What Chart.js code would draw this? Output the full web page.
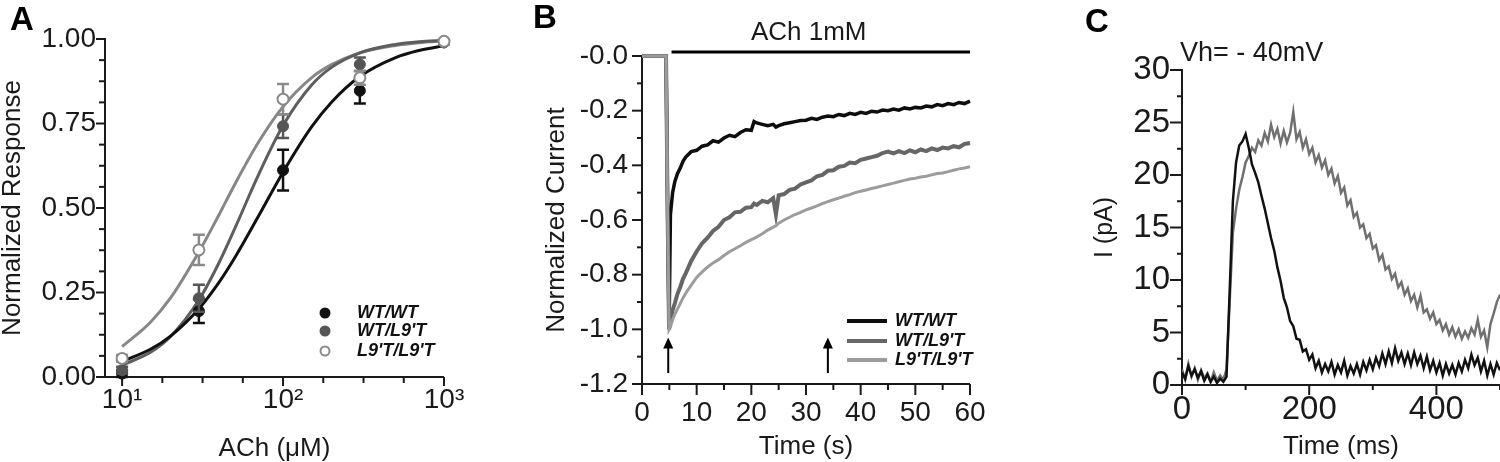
<!DOCTYPE html>
<html lang="en">
<head>
    <meta charset="UTF-8">
    <title>ACh responses</title>
    <style>
        body {
            margin: 0;
            background: #fff;
            width: 1500px;
            height: 462px;
            overflow: hidden;
            position: relative;
        }
        canvas { position: absolute; top: 0; }
        #chartA { left: 0; }
        #chartB { left: 500px; }
        #chartC { left: 1000px; }
    </style>
</head>
<body>
    <canvas id="chartA" width="500" height="462"></canvas>
    <canvas id="chartB" width="500" height="462"></canvas>
    <canvas id="chartC" width="500" height="462"></canvas>

    <script src="https://cdn.jsdelivr.net/npm/chart.js"></script>
    <script>
        const genotypes = ['WT/WT', "WT/L9'T", "L9'T/L9'T"];

        // Panel A - dose response (mean +/- error) and fitted curves
        const aConc = [10, 30, 100, 300, 1000];
        const aWT = [0.01, 0.195, 0.612, 0.847, 0.99];
        const aWTErr = [0.01, 0.035, 0.06, 0.038, 0.005];
        const aWTL9 = [0.02, 0.233, 0.742, 0.925, 0.99];
        const aWTL9Err = [0.01, 0.04, 0.035, 0.02, 0.005];
        const aL9 = [0.055, 0.376, 0.822, 0.885, 0.993];
        const aL9Err = [0.01, 0.045, 0.045, 0.02, 0.005];

        const aFitConc = [10, 15, 20, 30, 40, 50, 70, 100, 150, 200, 300, 500, 700, 1000];
        const aFitWT = [0.046, 0.082, 0.121, 0.202, 0.28, 0.352, 0.474, 0.606, 0.739, 0.813, 0.889, 0.945, 0.966, 0.98];
        const aFitWTL9 = [0.035, 0.073, 0.12, 0.228, 0.338, 0.438, 0.596, 0.744, 0.863, 0.916, 0.959, 0.984, 0.992, 0.996];
        const aFitL9 = [0.09, 0.162, 0.234, 0.37, 0.48, 0.569, 0.693, 0.80, 0.885, 0.924, 0.959, 0.981, 0.989, 0.994];

        const aXTicks = [10, 100, 1000];
        const aXLabels = ['10¹', '10²', '10³'];
        const aXMinor = [17.78, 31.62, 56.23, 177.8, 316.2, 562.3];
        const aYTicks = [0, 0.25, 0.5, 0.75, 1];
        const aYLabels = ['0.00', '0.25', '0.50', '0.75', '1.00'];
        const aYMinor = [0.0625, 0.125, 0.1875, 0.3125, 0.375, 0.4375, 0.5625, 0.625, 0.6875, 0.8125, 0.875, 0.9375];

        // Panel B - normalized current traces, ACh 1mM
        const bTime = [0, 4.4, 4.7, 4.95, 5.2, 5.6, 6, 6.5, 7, 7.5,
            8, 9, 10, 11, 12, 13, 14, 15, 16, 17,
            18, 19, 20, 20.5, 21, 22, 23, 24, 24.5, 25,
            26, 27, 28, 29, 30, 31, 32, 33, 34, 35,
            36, 37, 38, 39, 40, 41, 42, 43, 44, 45,
            46, 47, 48, 49, 50, 51, 52, 53, 54, 55,
            56, 57, 58, 59, 60];
        const bWT = [0, 0, -0.6, -1.0, -0.58, -0.5, -0.46, -0.43, -0.41, -0.385,
            -0.37, -0.35, -0.345, -0.33, -0.325, -0.31, -0.315, -0.3, -0.29, -0.295,
            -0.28, -0.27, -0.272, -0.24, -0.245, -0.25, -0.255, -0.25, -0.26, -0.255,
            -0.248, -0.244, -0.24, -0.236, -0.235, -0.228, -0.232, -0.224, -0.22, -0.222,
            -0.214, -0.218, -0.21, -0.214, -0.206, -0.21, -0.202, -0.205, -0.198, -0.2,
            -0.194, -0.198, -0.19, -0.194, -0.188, -0.19, -0.183, -0.186, -0.178, -0.182,
            -0.174, -0.178, -0.17, -0.174, -0.165];
        const bWTL9 = [0, 0, -0.6, -1.0, -0.97, -0.93, -0.905, -0.87, -0.845, -0.815,
            -0.795, -0.75, -0.715, -0.685, -0.665, -0.64, -0.625, -0.6, -0.59, -0.572,
            -0.57, -0.555, -0.553, -0.54, -0.545, -0.53, -0.535, -0.52, -0.58, -0.51,
            -0.505, -0.49, -0.485, -0.47, -0.462, -0.455, -0.44, -0.435, -0.42, -0.418,
            -0.405, -0.402, -0.39, -0.392, -0.38, -0.375, -0.37, -0.365, -0.355, -0.35,
            -0.356, -0.348, -0.355, -0.345, -0.352, -0.342, -0.348, -0.338, -0.344, -0.335,
            -0.338, -0.33, -0.334, -0.322, -0.318];
        const bL9 = [0, 0, -0.6, -1.0, -0.99, -0.965, -0.945, -0.925, -0.905, -0.885,
            -0.868, -0.838, -0.81, -0.79, -0.772, -0.757, -0.745, -0.73, -0.716, -0.705,
            -0.694, -0.682, -0.672, -0.667, -0.662, -0.65, -0.637, -0.626, -0.621, -0.612,
            -0.6, -0.59, -0.58, -0.572, -0.563, -0.556, -0.548, -0.54, -0.533, -0.526,
            -0.52, -0.513, -0.507, -0.5, -0.495, -0.49, -0.485, -0.48, -0.475, -0.47,
            -0.465, -0.46, -0.455, -0.45, -0.447, -0.443, -0.44, -0.435, -0.43, -0.428,
            -0.423, -0.418, -0.413, -0.41, -0.405];
        const bAChBar = [5.4, 60];
        const bArrows = [4.8, 34];

        const bXTicks = [0, 10, 20, 30, 40, 50, 60];
        const bXLabels = ['0', '10', '20', '30', '40', '50', '60'];
        const bXMinor = [5, 15, 25, 35, 45, 55];
        const bYTicks = [-1.2, -1.0, -0.8, -0.6, -0.4, -0.2, 0];
        const bYLabels = ['-1.2', '-1.0', '-0.8', '-0.6', '-0.4', '-0.2', '-0.0'];
        const bYMinor = [-1.1, -0.9, -0.7, -0.5, -0.3, -0.1];

        // Panel C - currents at Vh = -40 mV
        const cTime = [0, 5, 10, 15, 20, 25, 30, 35, 40, 45,
            50, 55, 60, 65, 70, 75, 80, 85, 90, 95,
            100, 105, 110, 115, 120, 125, 130, 135, 140, 145,
            150, 155, 160, 165, 170, 175, 180, 185, 190, 195,
            200, 205, 210, 215, 220, 225, 230, 235, 240, 245,
            250, 255, 260, 265, 270, 275, 280, 285, 290, 295,
            300, 305, 310, 315, 320, 325, 330, 335, 340, 345,
            350, 355, 360, 365, 370, 375, 380, 385, 390, 395,
            400, 405, 410, 415, 420, 425, 430, 435, 440, 445,
            450, 455, 460, 465, 470, 475, 480, 485, 490, 495,
            500];
        const cBlack = [1.2, 0.6, 1.8, 0.9, 1.5, 0.7, 1.3, 0.4, 1.0, 0.3,
            0.8, 0.2, 0.6, 0.3, 0.8, 9.0, 17.5, 21.2, 22.8, 23.2,
            23.9, 22.6, 21.0, 20.2, 19.3, 18.0, 16.8, 15.4, 14.0, 12.8,
            11.2, 9.9, 8.3, 7.4, 6.1, 5.6, 4.4, 4.3, 3.2, 3.4,
            2.4, 2.9, 1.6, 2.3, 1.2, 2.0, 1.3, 2.2, 1.0, 1.9,
            1.2, 2.3, 0.9, 1.8, 1.1, 2.0, 1.0, 2.2, 1.4, 2.4,
            1.5, 2.6, 1.8, 3.0, 2.0, 3.2, 2.1, 3.5, 2.3, 3.1,
            2.0, 3.0, 1.9, 3.1, 2.0, 2.8, 1.6, 2.7, 1.4, 2.3,
            1.2, 2.1, 0.9, 2.0, 1.1, 1.9, 1.0, 2.1, 1.3, 2.4,
            1.6, 2.9, 1.9, 2.6, 1.3, 2.3, 0.9, 2.0, 1.0, 2.1,
            1.4];
        const cGray = [1.5, 0.5, 2.0, 0.8, 1.6, 0.5, 1.4, 0.6, 1.1, 0.3,
            1.2, 0.4, 0.9, 0.5, 1.5, 8.0, 14.5, 16.8, 18.6, 19.8,
            21.2, 21.8, 22.6, 22.2, 23.3, 22.8, 24.0, 23.2, 24.8, 23.6,
            24.4, 23.0, 24.2, 23.1, 24.0, 26.0, 23.4, 24.1, 22.6, 23.4,
            22.0, 22.6, 21.2, 21.9, 20.7, 21.4, 20.0, 20.6, 19.2, 19.9,
            18.3, 18.8, 17.1, 17.6, 16.0, 16.4, 15.0, 15.3, 14.0, 14.4,
            13.0, 13.3, 11.9, 12.4, 11.0, 11.3, 10.1, 10.6, 9.3, 9.8,
            8.6, 9.2, 8.0, 8.6, 7.4, 8.5, 6.9, 7.2, 6.3, 6.9,
            5.8, 6.2, 5.2, 5.8, 4.8, 5.5, 4.6, 5.3, 4.4, 5.1,
            4.5, 5.4, 4.8, 6.2, 4.6, 5.2, 3.6, 5.8, 6.8, 7.9,
            8.6];

        const cXTicks = [0, 200, 400];
        const cXLabels = ['0', '200', '400'];
        const cXMinor = [100, 300, 500];
        const cYTicks = [0, 5, 10, 15, 20, 25, 30];
        const cYLabels = ['0', '5', '10', '15', '20', '25', '30'];
        const cYMinor = [2.5, 7.5, 12.5, 17.5, 22.5, 27.5];

        const FONT = '"Liberation Sans", Arial, Helvetica, sans-serif';
        const INK = '#1a1a1a';
        Chart.defaults.font.family = FONT;
        Chart.defaults.color = INK;

        const pairs = (xs, ys) => xs.map((x, i) => ({ x: x, y: ys[i] }));

        function scaleOpts(o) {
            return {
                type: o.type || 'linear',
                position: o.position,
                min: o.min,
                max: o.max,
                grid: { display: false, drawTicks: false },
                border: { display: false },
                afterBuildTicks: s => { s.ticks = o.ticks.map(v => ({ value: v })); },
                afterFit: s => {
                    if (o.position === 'left') s.width = o.fit;
                    else s.height = o.fit;
                },
                ticks: {
                    padding: o.pad,
                    autoSkip: false,
                    maxRotation: 0,
                    color: INK,
                    font: { size: o.size },
                    callback: (v, i) => o.labels[i]
                },
                title: {
                    display: true,
                    text: o.title,
                    color: INK,
                    font: { size: o.titleSize, lineHeight: 1 },
                    padding: { top: o.titlePad, bottom: o.titlePad }
                }
            };
        }

        // axis lines plus major/minor tick marks
        function drawAxes(chart, xMajor, xMinor, xLen, yMajor, yMinor, yLen) {
            const { ctx, chartArea: a, scales: { x, y } } = chart;
            ctx.save();
            ctx.strokeStyle = INK;
            ctx.lineWidth = 2;
            ctx.beginPath();
            ctx.moveTo(a.left, a.top - 1);
            ctx.lineTo(a.left, a.bottom);
            ctx.lineTo(a.right, a.bottom);
            ctx.stroke();
            const markX = (v, len) => {
                const p = x.getPixelForValue(v);
                ctx.beginPath(); ctx.moveTo(p, a.bottom); ctx.lineTo(p, a.bottom + len); ctx.stroke();
            };
            const markY = (v, len) => {
                const p = y.getPixelForValue(v);
                ctx.beginPath(); ctx.moveTo(a.left, p); ctx.lineTo(a.left - len, p); ctx.stroke();
            };
            xMajor.forEach(v => markX(v, xLen[0]));
            xMinor.forEach(v => markX(v, xLen[1]));
            yMajor.forEach(v => markY(v, yLen[0]));
            yMinor.forEach(v => markY(v, yLen[1]));
            ctx.restore();
        }

        function panelLetter(ctx, letter, x, y) {
            ctx.save();
            ctx.font = 'bold 33px ' + FONT;
            ctx.fillStyle = '#000';
            ctx.textBaseline = 'alphabetic';
            ctx.fillText(letter, x, y);
            ctx.restore();
        }

        const baseOptions = {
            responsive: false,
            animation: false,
            events: [],
            plugins: { legend: { display: false }, tooltip: { enabled: false } }
        };

        // ---------- Panel A ----------
        const aColors = ['#111111', '#555555', '#8a8a8a'];
        const aFits = [aFitWT, aFitWTL9, aFitL9];
        const aMeans = [aWT, aWTL9, aL9];
        const aErrs = [aWTErr, aWTL9Err, aL9Err];

        const aDatasets = [];
        aMeans.forEach((m, i) => {
            aDatasets.push({
                label: genotypes[i],
                data: pairs(aConc, m),
                err: aErrs[i],
                errColor: aColors[i],
                showLine: false,
                pointRadius: 5.5,
                pointBackgroundColor: i === 2 ? '#ffffff' : aColors[i],
                pointBorderColor: aColors[i],
                pointBorderWidth: i === 2 ? 2 : 1,
                clip: false,
                order: 3 - i
            });
        });
        aFits.forEach((f, i) => {
            aDatasets.push({
                label: genotypes[i] + ' fit',
                data: pairs(aFitConc, f),
                showLine: true,
                pointRadius: 0,
                borderColor: i === 0 ? '#111111' : (i === 1 ? '#5e5e5e' : '#878787'),
                borderWidth: 3,
                cubicInterpolationMode: 'monotone',
                order: 4 + i
            });
        });

        new Chart(document.getElementById('chartA'), {
            type: 'scatter',
            data: { datasets: aDatasets },
            options: {
                ...baseOptions,
                layout: { padding: { left: 0, right: 56, top: 39, bottom: 0 } },
                scales: {
                    x: scaleOpts({ type: 'logarithmic', position: 'bottom', min: 7.83, max: 1000,
                        ticks: aXTicks, labels: aXLabels, size: 28, pad: 6, fit: 85,
                        title: 'ACh (μM)', titleSize: 26, titlePad: 0 }),
                    y: scaleOpts({ position: 'left', min: 0, max: 1,
                        ticks: aYTicks, labels: aYLabels, size: 28, pad: 9, fit: 105,
                        title: 'Normalized Response', titleSize: 26, titlePad: 0 })
                }
            },
            plugins: [{
                id: 'panelA',
                beforeDatasetsDraw(chart) {
                    drawAxes(chart, aXTicks, aXMinor, [9, 6], aYTicks, aYMinor, [9, 6]);
                },
                beforeDatasetDraw(chart, args) {
                    const ds = chart.data.datasets[args.index];
                    if (!ds.err) return;
                    const { ctx, scales: { x, y } } = chart;
                    ctx.save();
                    ctx.strokeStyle = ds.errColor;
                    ctx.lineWidth = 2.5;
                    ds.data.forEach((p, i) => {
                        const px = x.getPixelForValue(p.x);
                        const lo = y.getPixelForValue(p.y - ds.err[i]);
                        const hi = y.getPixelForValue(p.y + ds.err[i]);
                        ctx.beginPath();
                        ctx.moveTo(px, lo); ctx.lineTo(px, hi);
                        ctx.moveTo(px - 6, lo); ctx.lineTo(px + 6, lo);
                        ctx.moveTo(px - 6, hi); ctx.lineTo(px + 6, hi);
                        ctx.stroke();
                    });
                    ctx.restore();
                },
                afterDraw(chart) {
                    const { ctx, chartArea: a } = chart;
                    const rows = [64, 46, 26];
                    ctx.save();
                    ctx.font = 'italic bold 18px ' + FONT;
                    ctx.textBaseline = 'middle';
                    genotypes.forEach((g, i) => {
                        const yy = a.bottom - rows[i];
                        const xx = a.left + 220;
                        ctx.beginPath();
                        ctx.arc(xx, yy, i === 2 ? 4.5 : 5.5, 0, Math.PI * 2);
                        if (i === 2) {
                            ctx.fillStyle = '#fff'; ctx.fill();
                            ctx.lineWidth = 2; ctx.strokeStyle = aColors[i]; ctx.stroke();
                        } else {
                            ctx.fillStyle = aColors[i]; ctx.fill();
                        }
                        ctx.fillStyle = '#111';
                        ctx.fillText(g, xx + 32, yy);
                    });
                    ctx.restore();
                    panelLetter(ctx, 'A', 10, 30);
                }
            }]
        });

        // ---------- Panel B ----------
        const bColors = ['#0d0d0d', '#666666', '#9c9c9c'];
        const bSeries = [bWT, bWTL9, bL9];
        const bWidths = [3.5, 4, 3];

        new Chart(document.getElementById('chartB'), {
            type: 'scatter',
            data: {
                datasets: bSeries.map((s, i) => ({
                    label: genotypes[i],
                    data: pairs(bTime, s),
                    showLine: true,
                    pointRadius: 0,
                    borderColor: bColors[i],
                    borderWidth: bWidths[i],
                    clip: false,
                    order: 3 - i
                }))
            },
            options: {
                ...baseOptions,
                layout: { padding: { left: 0, right: 30, top: 56, bottom: 0 } },
                scales: {
                    x: scaleOpts({ position: 'bottom', min: 0, max: 60,
                        ticks: bXTicks, labels: bXLabels, size: 28, pad: 12, fit: 78,
                        title: 'Time (s)', titleSize: 26, titlePad: 2 }),
                    y: scaleOpts({ position: 'left', min: -1.2, max: 0,
                        ticks: bYTicks, labels: bYLabels, size: 28, pad: 14, fit: 142,
                        title: 'Normalized Current', titleSize: 26, titlePad: 44 })
                }
            },
            plugins: [{
                id: 'panelB',
                beforeDatasetsDraw(chart) {
                    drawAxes(chart, bXTicks, bXMinor, [11, 6], bYTicks, bYMinor, [10, 5]);
                },
                afterDraw(chart) {
                    const { ctx, chartArea: a, scales: { x, y } } = chart;
                    ctx.save();
                    // agonist application bar
                    const barY = y.getPixelForValue(0) - 4;
                    ctx.strokeStyle = '#000';
                    ctx.lineWidth = 3;
                    ctx.beginPath();
                    ctx.moveTo(x.getPixelForValue(bAChBar[0]), barY);
                    ctx.lineTo(x.getPixelForValue(bAChBar[1]), barY);
                    ctx.stroke();
                    ctx.font = '26px ' + FONT;
                    ctx.fillStyle = INK;
                    ctx.textAlign = 'center';
                    ctx.textBaseline = 'middle';
                    ctx.fillText('ACh 1mM', x.getPixelForValue(30.5), barY - 19);

                    // arrows
                    bArrows.forEach(t => {
                        const px = x.getPixelForValue(t);
                        const tail = y.getPixelForValue(-1.16);
                        const tip = y.getPixelForValue(-1.03);
                        ctx.lineWidth = 2;
                        ctx.beginPath();
                        ctx.moveTo(px, tail); ctx.lineTo(px, tip + 8);
                        ctx.stroke();
                        ctx.beginPath();
                        ctx.moveTo(px, tip); ctx.lineTo(px - 5, tip + 11); ctx.lineTo(px + 5, tip + 11);
                        ctx.closePath();
                        ctx.fillStyle = '#000';
                        ctx.fill();
                    });

                    // legend
                    const rows = [63, 43, 24];
                    ctx.font = 'italic bold 18px ' + FONT;
                    ctx.textAlign = 'left';
                    genotypes.forEach((g, i) => {
                        const yy = a.bottom - rows[i];
                        ctx.strokeStyle = bColors[i];
                        ctx.lineWidth = 4;
                        ctx.beginPath();
                        ctx.moveTo(a.left + 205, yy); ctx.lineTo(a.left + 245, yy);
                        ctx.stroke();
                        ctx.fillStyle = '#111';
                        ctx.fillText(g, a.left + 253, yy);
                    });
                    ctx.restore();
                    panelLetter(ctx, 'B', 33, 28);
                }
            }]
        });

        // ---------- Panel C ----------
        new Chart(document.getElementById('chartC'), {
            type: 'scatter',
            data: {
                datasets: [
                    { label: 'black', data: pairs(cTime, cBlack), showLine: true, pointRadius: 0,
                      borderColor: '#111111', borderWidth: 2.5, order: 1 },
                    { label: 'gray', data: pairs(cTime, cGray), showLine: true, pointRadius: 0,
                      borderColor: '#707070', borderWidth: 2.5, order: 2 }
                ]
            },
            options: {
                ...baseOptions,
                layout: { padding: { left: 0, right: 0, top: 70, bottom: 0 } },
                scales: {
                    x: scaleOpts({ position: 'bottom', min: 0, max: 500,
                        ticks: cXTicks, labels: cXLabels, size: 33, pad: 5, fit: 77,
                        title: 'Time (ms)', titleSize: 26, titlePad: 2 }),
                    y: scaleOpts({ position: 'left', min: 0, max: 30,
                        ticks: cYTicks, labels: cYLabels, size: 33, pad: 12, fit: 182,
                        title: 'I (pA)', titleSize: 25, titlePad: 93 })
                }
            },
            plugins: [{
                id: 'panelC',
                beforeDatasetsDraw(chart) {
                    drawAxes(chart, cXTicks, cXMinor, [10, 5], cYTicks, cYMinor, [12, 5]);
                },
                afterDraw(chart) {
                    const { ctx, chartArea: a } = chart;
                    ctx.save();
                    ctx.font = '27px ' + FONT;
                    ctx.fillStyle = INK;
                    ctx.textBaseline = 'middle';
                    ctx.fillText('Vh= - 40mV', a.left - 2, a.top - 16);
                    ctx.restore();
                    panelLetter(ctx, 'C', 85, 32);
                }
            }]
        });
    </script>
</body>
</html>
